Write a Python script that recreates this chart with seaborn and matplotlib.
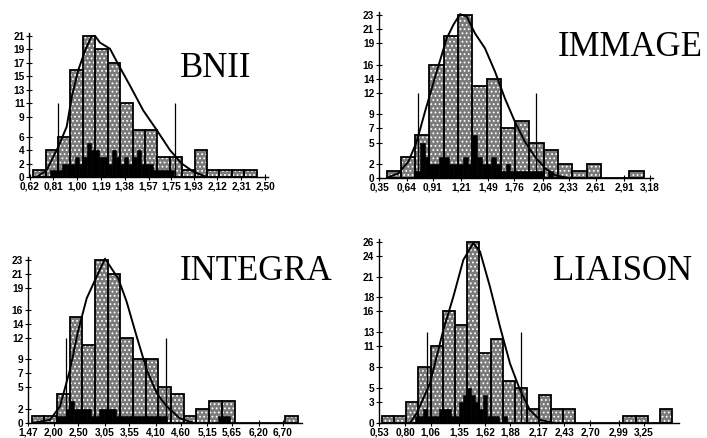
import numpy as np
import pandas as pd
import matplotlib
matplotlib.use("Agg")
import matplotlib.pyplot as plt
from matplotlib import font_manager
import seaborn as sns

# ---- data ----
bnii_bin_left = 0.650
bnii_bin_w = 0.099
bnii_counts = [1, 4, 6, 16, 21, 19, 17, 11, 7, 7, 3, 3, 1, 4, 1, 1, 1, 1]
bnii_spike_left = 0.749
bnii_spikes = [0, 1, 1, 1, 2, 2, 2, 3, 2, 3, 5, 4, 4, 3, 3, 2, 4, 3, 2, 3, 2,
               3, 4, 2, 2, 2, 1, 1, 1, 1, 1, 0, 0]
bnii_curve_x = [0.677, 0.757, 0.850, 0.917, 0.957, 1.009, 1.063, 1.116, 1.143,
                1.183, 1.262, 1.342, 1.422, 1.528, 1.635, 1.741, 1.835, 1.927, 2.034]
bnii_curve_y = [0, 1.0, 4.5, 7.5, 11.9, 15.9, 18.8, 21.0, 21.0, 20.0, 19.1,
                16.3, 13.6, 9.9, 7.0, 4.0, 2.0, 0.8, 0]
bnii_vlines = [0.850, 1.781]
bnii_vline_h = 11
bnii_xticks = [0.62, 0.81, 1.00, 1.19, 1.38, 1.57, 1.75, 1.93, 2.12, 2.31, 2.50]
bnii_xlabels = ["0,62", "0,81", "1,00", "1,19", "1,38", "1,57", "1,75", "1,93", "2,12", "2,31", "2,50"]
bnii_yticks = [0, 2, 4, 6, 9, 11, 13, 15, 17, 19, 21]

immage_bin_left = 0.430
immage_bin_w = 0.149
immage_counts = [1, 3, 6, 16, 20, 23, 13, 14, 7, 8, 5, 4, 2, 1, 2, 0, 0, 1]
immage_spike_left = 0.728
immage_spikes = [1, 5, 3, 2, 2, 3, 3, 2, 2, 2, 3, 2, 6, 3, 2, 2, 3, 2, 1, 2, 1,
                 1, 1, 1, 1, 1, 1, 0, 1, 0]
immage_curve_x = [0.430, 0.551, 0.656, 0.743, 0.830, 0.952, 1.057, 1.126, 1.196, 1.265,
                  1.352, 1.456, 1.561, 1.665, 1.770, 1.874, 1.978, 2.083, 2.187, 2.326]
immage_curve_y = [0, 0.66, 2.3, 5.1, 9.35, 15.0, 19.7, 21.6, 23.1, 22.8,
                  20.4, 18.3, 15.0, 11.2, 7.9, 5.1, 3.0, 1.4, 0.4, 0]
immage_vlines = [0.754, 1.989]
immage_vline_h = 12
immage_xticks = [0.35, 0.64, 0.91, 1.21, 1.49, 1.76, 2.06, 2.33, 2.61, 2.91, 3.18]
immage_xlabels = ["0,35", "0,64", "0,91", "1,21", "1,49", "1,76", "2,06", "2,33", "2,61", "2,91", "3,18"]
immage_yticks = [0, 2, 5, 7, 9, 12, 14, 16, 19, 21, 23]

integra_bin_left = 1.546
integra_bin_w = 0.260
integra_counts = [1, 1, 4, 15, 11, 23, 21, 12, 9, 9, 5, 4, 1, 2, 3, 3, 0, 0, 0, 0, 1]
integra_spike_left = 2.066
integra_spikes = [1, 1, 2, 3, 2, 2, 2, 2, 1, 1, 2, 2, 2, 2, 1, 1, 1, 1, 1, 1, 1,
                  1, 1, 1, 1, 1, 0, 0, 0, 0, 0, 0, 0, 0, 0, 0, 0, 0, 1, 1, 1, 0]
integra_curve_x = [1.579, 1.921, 2.126, 2.331, 2.502, 2.674, 2.879, 3.049,
                   3.322, 3.494, 3.699, 3.904, 4.109, 4.315, 4.587, 4.860]
integra_curve_y = [0, 0.4, 2.3, 7.5, 13.1, 17.6, 20.7, 23.2,
                   20.4, 17.1, 12.2, 7.5, 4.2, 2.3, 0.6, 0]
integra_vlines = [2.243, 4.294]
integra_vline_h = 12
integra_xticks = [1.47, 2.00, 2.50, 3.05, 3.55, 4.10, 4.60, 5.15, 5.65, 6.20, 6.70]
integra_xlabels = ["1,47", "2,00", "2,50", "3,05", "3,55", "4,10", "4,60", "5,15", "5,65", "6,20", "6,70"]
integra_yticks = [0, 2, 5, 7, 9, 12, 14, 16, 19, 21, 23]

liaison_bin_left = 0.564
liaison_bin_w = 0.1238
liaison_counts = [1, 1, 3, 8, 11, 16, 14, 26, 10, 12, 6, 5, 2, 4, 2, 2, 0, 0, 0, 0, 1, 1, 0, 2]
liaison_spike_left = 0.812
liaison_spikes = [0, 0, 1, 1, 2, 1, 1, 1, 2, 2, 2, 1, 1, 3, 4, 5, 4, 3, 2, 4, 1,
                  1, 1, 0, 1, 0, 0]
liaison_curve_x = [0.848, 0.917, 1.054, 1.190, 1.293, 1.396, 1.498, 1.567,
                   1.670, 1.772, 1.875, 1.978, 2.080, 2.183, 2.320]
liaison_curve_y = [0, 1.35, 5.7, 13.3, 18.1, 23.4, 25.8, 24.6,
                   19.5, 13.8, 8.5, 4.7, 1.8, 0.4, 0]
liaison_vlines = [1.026, 1.985]
liaison_vline_h = 13
liaison_xticks = [0.53, 0.80, 1.06, 1.35, 1.62, 1.88, 2.17, 2.43, 2.70, 2.99, 3.25]
liaison_xlabels = ["0,53", "0,80", "1,06", "1,35", "1,62", "1,88", "2,17", "2,43", "2,70", "2,99", "3,25"]
liaison_yticks = [0, 3, 5, 8, 11, 13, 16, 18, 21, 24, 26]

titles = ["BNII", "IMMAGE", "INTEGRA", "LIAISON"]

# ---- style ----
sns.set_theme(style="white")
plt.rcParams["hatch.linewidth"] = 0.8
installed = {f.name for f in font_manager.fontManager.ttflist}
if "Liberation Sans Narrow" in installed:
    tick_font, tick_size = "Liberation Sans Narrow", 9
else:
    tick_font, tick_size = "Liberation Sans", 7.3

W, H = 707, 438
fig = plt.figure(figsize=(W / 100, H / 100), dpi=100)

panels = [
    dict(box=(29.5, 267.6, 32.6, 177.0), xlim=(0.62, 2.52), ylim=(0, 21.5),
         left=bnii_bin_left, w=bnii_bin_w, counts=bnii_counts,
         sleft=bnii_spike_left, spikes=bnii_spikes,
         cx=bnii_curve_x, cy=bnii_curve_y, vl=bnii_vlines, vh=bnii_vline_h,
         xt=bnii_xticks, xl=bnii_xlabels, yt=bnii_yticks, title_at=(180, 77)),
    dict(box=(379.0, 653.0, 12.1, 178.0), xlim=(0.35, 3.21), ylim=(0, 23.4),
         left=immage_bin_left, w=immage_bin_w, counts=immage_counts,
         sleft=immage_spike_left, spikes=immage_spikes,
         cx=immage_curve_x, cy=immage_curve_y, vl=immage_vlines, vh=immage_vline_h,
         xt=immage_xticks, xl=immage_xlabels, yt=immage_yticks, title_at=(558, 56)),
    dict(box=(28.0, 302.0, 256.6, 422.7), xlim=(1.47, 7.09), ylim=(0, 23.5),
         left=integra_bin_left, w=integra_bin_w, counts=integra_counts,
         sleft=integra_spike_left, spikes=integra_spikes,
         cx=integra_curve_x, cy=integra_curve_y, vl=integra_vlines, vh=integra_vline_h,
         xt=integra_xticks, xl=integra_xlabels, yt=integra_yticks, title_at=(180, 280)),
    dict(box=(379.0, 679.0, 239.0, 422.7), xlim=(0.53, 3.61), ylim=(0, 26.4),
         left=liaison_bin_left, w=liaison_bin_w, counts=liaison_counts,
         sleft=liaison_spike_left, spikes=liaison_spikes,
         cx=liaison_curve_x, cy=liaison_curve_y, vl=liaison_vlines, vh=liaison_vline_h,
         xt=liaison_xticks, xl=liaison_xlabels, yt=liaison_yticks, title_at=(553, 280)),
]

for p, name in zip(panels, titles):
    l, r, t, b = p["box"]
    ax = fig.add_axes([l / W, 1 - b / H, (r - l) / W, (b - t) / H])

    # main histogram: stipple (grey face with white dots), then black outline
    n = len(p["counts"])
    edges = p["left"] + p["w"] * np.arange(n + 1)
    bars = pd.DataFrame({"x": edges[:-1] + p["w"] / 2, "n": p["counts"]})
    sns.histplot(data=bars, x="x", weights="n", bins=list(edges), ax=ax,
                 facecolor="#7a7a7a", edgecolor="white", linewidth=0.0,
                 hatch="....", alpha=1, zorder=1)
    sns.histplot(data=bars, x="x", weights="n", bins=list(edges), ax=ax,
                 fill=False, color="black", linewidth=1.3, zorder=1.5)

    # dense black spikes at the bottom
    sw = p["w"] / 3
    m = len(p["spikes"])
    sedges = p["sleft"] + sw * np.arange(m + 1)
    spk = pd.DataFrame({"x": sedges[:-1] + sw / 2, "n": p["spikes"]})
    sns.histplot(data=spk, x="x", weights="n", bins=list(sedges), ax=ax,
                 color="black", edgecolor="black", linewidth=0.4,
                 alpha=1, zorder=2)

    ax.vlines(p["vl"], 0, p["vh"], colors="black", linewidth=0.9, zorder=3)
    sns.lineplot(x=p["cx"], y=p["cy"], ax=ax, color="black", linewidth=1.4,
                 sort=False, estimator=None, zorder=4)

    ax.set_xlim(*p["xlim"])
    ax.set_ylim(*p["ylim"])
    ax.set_xlabel("")
    ax.set_ylabel("")
    ax.set_xticks(p["xt"])
    ax.set_xticklabels(p["xl"], fontfamily=tick_font, fontsize=tick_size, fontweight="bold")
    ax.set_yticks(p["yt"])
    ax.set_yticklabels([str(v) for v in p["yt"]], fontfamily=tick_font,
                       fontsize=tick_size, fontweight="bold")
    ax.tick_params(axis="both", direction="inout", length=4, width=0.8,
                   colors="black", pad=1.5, left=True, bottom=True)
    for side in ["top", "right"]:
        ax.spines[side].set_visible(False)
    for side in ["left", "bottom"]:
        ax.spines[side].set_color("black")
        ax.spines[side].set_linewidth(1.0)
    ax.set_facecolor("none")

    tx, ty = p["title_at"]
    fig.text(tx / W, 1 - ty / H, name, family="Liberation Serif", fontsize=25,
             ha="left", va="baseline", color="black")

fig.savefig("out.png", dpi=100, facecolor="white")
